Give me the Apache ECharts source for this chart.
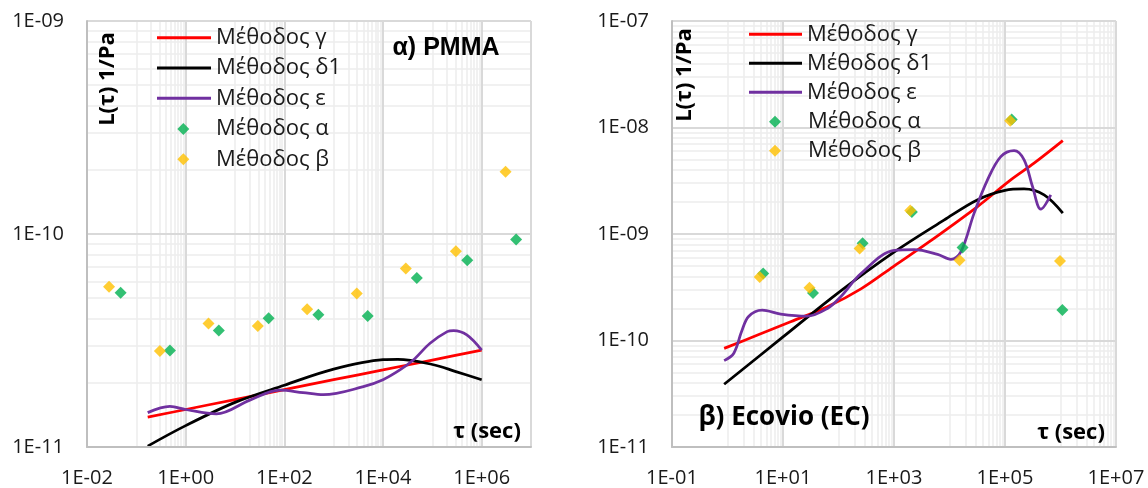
<!DOCTYPE html>
<html>
<head>
<meta charset="utf-8">
<script src="https://cdn.jsdelivr.net/npm/echarts@6/dist/echarts.min.js"></script>
<style>
  html, body { margin: 0; padding: 0; background: #ffffff; }
  #chart { width: 1148px; height: 488px; }
</style>
</head>
<body>
<div id="chart"></div>
<script>
// ---------- α) PMMA : retardation spectrum L(τ) ----------
const pmmaAlphaTau = [0.048, 0.48, 4.7, 48, 490, 4900, 48500, 5.1e5, 5.0e6];
const pmmaAlphaL   = [5.30e-11, 2.84e-11, 3.52e-11, 4.02e-11, 4.18e-11, 4.12e-11, 6.22e-11, 7.53e-11, 9.42e-11];
const pmmaBetaTau  = [0.028, 0.30, 2.9, 29, 290, 2940, 29000, 3.0e5, 3.05e6];
const pmmaBetaL    = [5.65e-11, 2.82e-11, 3.80e-11, 3.70e-11, 4.43e-11, 5.26e-11, 6.89e-11, 8.30e-11, 1.96e-10];
const pmmaGammaTau = [0.17, 1, 10, 100, 1e3, 1e4, 1e5, 1e6];
const pmmaGammaL   = [1.38e-11, 1.50e-11, 1.67e-11, 1.86e-11, 2.07e-11, 2.30e-11, 2.56e-11, 2.85e-11];
const pmmaDeltaTau = [0.17, 1, 10, 100, 1e3, 1e4, 2e4, 1e5, 3e5, 1e6];
const pmmaDeltaL   = [1.01e-11, 1.26e-11, 1.62e-11, 1.95e-11, 2.32e-11, 2.57e-11, 2.58e-11, 2.44e-11, 2.26e-11, 2.07e-11];
const pmmaEpsTau   = [0.17, 0.48, 1, 4.2, 20, 81, 240, 620, 4000, 1e4, 2.2e4, 4.1e4, 9e4, 2e5, 2.7e5, 5e5, 1e6];
const pmmaEpsL     = [1.45e-11, 1.55e-11, 1.50e-11, 1.43e-11, 1.66e-11, 1.85e-11, 1.80e-11, 1.76e-11, 1.92e-11,
                      2.07e-11, 2.30e-11, 2.56e-11, 3.07e-11, 3.48e-11, 3.52e-11, 3.36e-11, 2.85e-11];

// ---------- β) Ecovio (EC) ----------
const ecoAlphaTau = [4.4, 34.7, 272, 2100, 17200, 1.32e5, 1.08e6];
const ecoAlphaL   = [4.25e-10, 2.80e-10, 8.2e-10, 1.61e-9, 7.45e-10, 1.19e-8, 1.93e-10];
const ecoBetaTau  = [3.8, 30, 240, 1960, 15200, 1.24e5, 9.8e5];
const ecoBetaL    = [3.95e-10, 3.12e-10, 7.31e-10, 1.66e-9, 5.66e-10, 1.16e-8, 5.58e-10];
const ecoGammaTau = [0.87, 3.4, 13.7, 63, 254, 1000, 4030, 32000, 1.27e5, 3.34e5, 1.1e6];
const ecoGammaL   = [8.43e-11, 1.12e-10, 1.50e-10, 2.07e-10, 3.05e-10, 5.0e-10, 8.24e-10, 1.81e-9, 3.22e-9, 4.62e-9, 7.52e-9];
const ecoDeltaTau = [0.87, 10, 100, 1000, 7940, 31600, 1e5, 2.2e5, 5.06e5, 1.1e6];
const ecoDeltaL   = [3.88e-11, 1.08e-10, 2.82e-10, 6.76e-10, 1.35e-9, 2.09e-9, 2.57e-9, 2.65e-9, 2.33e-9, 1.57e-9];
const ecoEpsTau   = [0.87, 1.3, 1.8, 2.4, 4.2, 9.1, 27, 63, 109, 254, 1010, 2310, 6100, 10600, 16000, 27800,
                     48400, 84000, 1.46e5, 2.21e5, 3.13e5, 4.42e5, 6.68e5];
const ecoEpsL     = [6.47e-11, 7.6e-11, 1.22e-10, 1.68e-10, 1.93e-10, 1.77e-10, 1.69e-10, 2.0e-10, 2.57e-10, 4.25e-10,
                     7.01e-10, 7.13e-10, 6.44e-10, 5.78e-10, 6.78e-10, 1.57e-9, 3.22e-9, 5.33e-9, 6.07e-9,
                     4.97e-9, 2.79e-9, 1.71e-9, 2.33e-9];

// ---------- axis tick labels ----------
const pmmaTauLabels = ['1E-02', '1E+00', '1E+02', '1E+04', '1E+06'];
const pmmaLLabels   = ['1E-11', '1E-10', '1E-09'];
const ecoTauLabels  = ['1E-01', '1E+01', '1E+03', '1E+05', '1E+07'];
const ecoLLabels    = ['1E-11', '1E-10', '1E-09', '1E-08', '1E-07'];

const seriesNames = ['Μέθοδος γ', 'Μέθοδος δ1', 'Μέθοδος ε', 'Μέθοδος α', 'Μέθοδος β'];

const FONT = '"Open Sans", "Noto Sans", sans-serif';
const TEXT = '#1a1a1a';
const COLORS = { gamma: '#ff0000', delta: '#000000', eps: '#7030a0', alpha: '#00b050', beta: '#ffc000' };

function sci(v) {
  const e = Math.round(Math.log10(v));
  const a = Math.abs(e);
  return '1E' + (e < 0 ? '-' : '+') + (a < 10 ? '0' : '') + a;
}
function zip(xs, ys) { return xs.map((x, i) => [x, ys[i]]); }

// log-paper gridlines: major lines darker, sub-decade lines lighter
const MAJOR = { color: '#d9d9d9', width: 2, type: 'solid' };
const MINOR = { color: '#ececec', width: 1.5, type: 'solid' };
function gridLineData(xMajorExp, xMin, xMax, yMin, yMax) {
  const d = [];
  const vLine = (x, st) => d.push([{ coord: [x, yMin], lineStyle: st }, { coord: [x, yMax] }]);
  const hLine = (y, st) => d.push([{ coord: [xMin, y], lineStyle: st }, { coord: [xMax, y] }]);
  const e0 = Math.round(Math.log10(yMin)), e1 = Math.round(Math.log10(yMax));
  xMajorExp.forEach(m => { for (let k = 1; k <= 9; k++) vLine(k * Math.pow(10, m - 1), MINOR); });
  for (let e = e0; e < e1; e++) { for (let k = 2; k <= 9; k++) hLine(k * Math.pow(10, e), MINOR); }
  xMajorExp.forEach(m => vLine(Math.pow(10, m), MAJOR));
  vLine(xMax, MAJOR);
  for (let e = e0 + 1; e <= e1; e++) hLine(Math.pow(10, e), MAJOR);
  return d;
}

function gridSeries(idx, data) {
  return {
    type: 'line', xAxisIndex: idx, yAxisIndex: idx, data: [], z: 1, silent: true,
    markLine: { z: 1, silent: true, symbol: ['none', 'none'], label: { show: false }, animation: false,
      lineStyle: { type: 'solid' }, emphasis: { disabled: true }, data: data }
  };
}

function lineSeries(idx, name, color, xs, ys) {
  return {
    name: name, type: 'line', xAxisIndex: idx, yAxisIndex: idx, data: zip(xs, ys),
    symbol: 'none', showSymbol: false, smooth: 0.35, z: 3, silent: true,
    lineStyle: { color: color, width: 2.75 }, itemStyle: { color: color }
  };
}
function dotSeries(idx, name, color, xs, ys) {
  return {
    name: name, type: 'scatter', xAxisIndex: idx, yAxisIndex: idx, data: zip(xs, ys),
    symbol: 'diamond', symbolSize: 12, z: 4, silent: true, itemStyle: { color: color }
  };
}

function xAxisOf(idx, min, max, labels) {
  return {
    type: 'log', logBase: 10, gridIndex: idx, min: min, max: max,
    splitNumber: Math.round(Math.log10(max / min)), z: 5,
    axisLine: { show: true, lineStyle: { color: '#bfbfbf', width: 2 } },
    axisTick: { show: false }, splitLine: { show: false }, minorSplitLine: { show: false },
    axisLabel: { margin: 21, fontSize: 20, fontFamily: FONT, color: TEXT,
      formatter: v => { const s = sci(v); return labels.includes(s) ? s : ''; } }
  };
}
function yAxisOf(idx, min, max, labels) {
  return {
    type: 'log', logBase: 10, gridIndex: idx, min: min, max: max,
    splitNumber: Math.round(Math.log10(max / min)), z: 5,
    axisLine: { show: true, lineStyle: { color: '#bfbfbf', width: 2 } },
    axisTick: { show: false }, splitLine: { show: false }, minorSplitLine: { show: false },
    axisLabel: { margin: 23, fontSize: 20, fontFamily: FONT, color: TEXT,
      formatter: v => { const s = sci(v); return labels.includes(s) ? s : ''; } }
  };
}

function legendBlock(left, top, names, w, h, gap, textPad, icon) {
  return {
    orient: 'vertical', left: left, top: top, padding: 0, itemGap: gap, z: 8,
    itemWidth: w, itemHeight: h, selectedMode: false, icon: icon,
    data: names,
    textStyle: { fontFamily: FONT, fontSize: 22, lineHeight: 22, color: TEXT, padding: [0, 0, 0, textPad] }
  };
}

function label(x, y, text, font, rot) {
  return {
    type: 'text', x: x, y: y, rotation: rot || 0, silent: true, z: 10,
    style: { text: text, font: font, fill: '#000000',
      align: 'center', verticalAlign: 'middle', textAlign: 'center', textVerticalAlign: 'middle' }
  };
}

const option = {
  animation: false,
  backgroundColor: '#ffffff',
  grid: [
    { left: 87, top: 21, width: 444, height: 427, show: false },
    { left: 672, top: 21, width: 444, height: 427, show: false }
  ],
  xAxis: [
    xAxisOf(0, 0.01, 1e7, pmmaTauLabels),
    xAxisOf(1, 0.1, 1e7, ecoTauLabels)
  ],
  yAxis: [
    yAxisOf(0, 1e-11, 1e-9, pmmaLLabels),
    yAxisOf(1, 1e-11, 1e-7, ecoLLabels)
  ],
  legend: [
    legendBlock(157, 26.7, seriesNames.slice(0, 3), 54, 3, 8.3, 0, 'rect'),
    legendBlock(177.3, 118, seriesNames.slice(3), 12, 12, 8.3, 21.7, 'diamond'),
    legendBlock(749, 23.3, seriesNames.slice(0, 3), 53, 3, 7, 0, 'rect'),
    legendBlock(769, 110.7, seriesNames.slice(3), 12, 12, 7, 22, 'diamond')
  ],
  graphic: [
    label(108, 79, 'L(τ) 1/Pa', 'bold 22px "Open Sans", sans-serif', Math.PI / 2),
    label(685, 75, 'L(τ) 1/Pa', 'bold 22px "Open Sans", sans-serif', Math.PI / 2),
    label(487, 431.5, 'τ (sec)', 'bold 22px "Open Sans", sans-serif'),
    label(1071, 433, 'τ (sec)', 'bold 22px "Open Sans", sans-serif'),
    label(446, 48.3, 'α) PMMA', 'bold 25px "Liberation Sans", Arial, sans-serif'),
    label(784, 417.5, 'β) Ecovio (EC)', 'bold 26px "Open Sans", sans-serif')
  ],
  series: [
    gridSeries(0, gridLineData([0, 2, 4, 6], 0.01, 1e7, 1e-11, 1e-9)),
    gridSeries(1, gridLineData([1, 3, 5, 7], 0.1, 1e7, 1e-11, 1e-7)),

    lineSeries(0, seriesNames[0], COLORS.gamma, pmmaGammaTau, pmmaGammaL),
    lineSeries(0, seriesNames[1], COLORS.delta, pmmaDeltaTau, pmmaDeltaL),
    lineSeries(0, seriesNames[2], COLORS.eps, pmmaEpsTau, pmmaEpsL),
    dotSeries(0, seriesNames[3], COLORS.alpha, pmmaAlphaTau, pmmaAlphaL),
    dotSeries(0, seriesNames[4], COLORS.beta, pmmaBetaTau, pmmaBetaL),

    lineSeries(1, seriesNames[0], COLORS.gamma, ecoGammaTau, ecoGammaL),
    lineSeries(1, seriesNames[1], COLORS.delta, ecoDeltaTau, ecoDeltaL),
    lineSeries(1, seriesNames[2], COLORS.eps, ecoEpsTau, ecoEpsL),
    dotSeries(1, seriesNames[3], COLORS.alpha, ecoAlphaTau, ecoAlphaL),
    dotSeries(1, seriesNames[4], COLORS.beta, ecoBetaTau, ecoBetaL)
  ]
};

const chart = echarts.init(document.getElementById('chart'), null, { renderer: 'canvas' });
chart.setOption(option);
</script>
</body>
</html>
